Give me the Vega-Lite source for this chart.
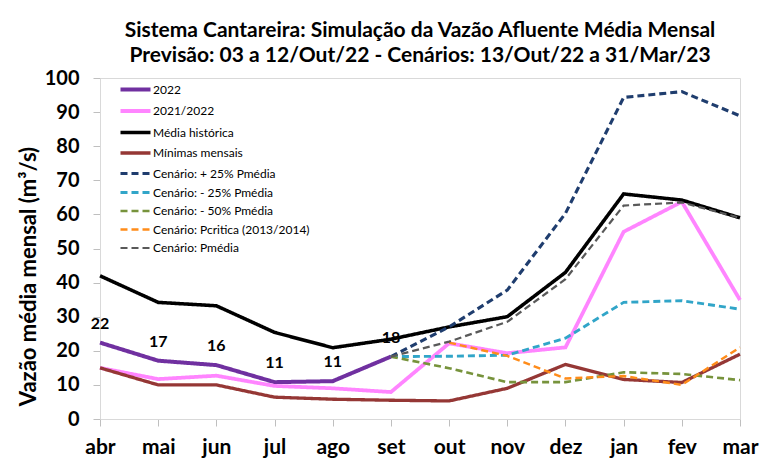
{
  "$schema": "https://vega.github.io/schema/vega-lite/v6.json",
  "width": 640,
  "height": 341,
  "autosize": "none",
  "padding": {"left": 100, "top": 78, "right": 28, "bottom": 45},
  "background": "white",
  "title": {
    "text": ["Sistema Cantareira: Simulação da Vazão Afluente Média Mensal", "Previsão: 03 a 12/Out/22 - Cenários: 13/Out/22 a 31/Mar/23"],
    "anchor": "middle",
    "frame": "group",
    "font": "Lato",
    "fontSize": 21,
    "fontWeight": "bold",
    "color": "black",
    "lineHeight": 25,
    "offset": 2
  },
  "config": {
    "view": {"stroke": "#D9D9D9"},
    "font": "Lato"
  },
  "data": {
    "values": [
      {"mes": "abr", "serie": "2022", "v": 22.4},
      {"mes": "mai", "serie": "2022", "v": 17.1},
      {"mes": "jun", "serie": "2022", "v": 15.8},
      {"mes": "jul", "serie": "2022", "v": 10.8},
      {"mes": "ago", "serie": "2022", "v": 11.1},
      {"mes": "set", "serie": "2022", "v": 18.3},
      {"mes": "abr", "serie": "2021/2022", "v": 15.0},
      {"mes": "mai", "serie": "2021/2022", "v": 11.7},
      {"mes": "jun", "serie": "2021/2022", "v": 12.7},
      {"mes": "jul", "serie": "2021/2022", "v": 9.7},
      {"mes": "ago", "serie": "2021/2022", "v": 9.0},
      {"mes": "set", "serie": "2021/2022", "v": 7.9},
      {"mes": "out", "serie": "2021/2022", "v": 22.2},
      {"mes": "nov", "serie": "2021/2022", "v": 19.3},
      {"mes": "dez", "serie": "2021/2022", "v": 21.0},
      {"mes": "jan", "serie": "2021/2022", "v": 54.9},
      {"mes": "fev", "serie": "2021/2022", "v": 63.7},
      {"mes": "mar", "serie": "2021/2022", "v": 34.9},
      {"mes": "abr", "serie": "Média histórica", "v": 42.0},
      {"mes": "mai", "serie": "Média histórica", "v": 34.2},
      {"mes": "jun", "serie": "Média histórica", "v": 33.2},
      {"mes": "jul", "serie": "Média histórica", "v": 25.4},
      {"mes": "ago", "serie": "Média histórica", "v": 20.9},
      {"mes": "set", "serie": "Média histórica", "v": 23.4},
      {"mes": "out", "serie": "Média histórica", "v": 27.0},
      {"mes": "nov", "serie": "Média histórica", "v": 30.0},
      {"mes": "dez", "serie": "Média histórica", "v": 43.0},
      {"mes": "jan", "serie": "Média histórica", "v": 66.0},
      {"mes": "fev", "serie": "Média histórica", "v": 64.2},
      {"mes": "mar", "serie": "Média histórica", "v": 59.0},
      {"mes": "abr", "serie": "Mínimas mensais", "v": 15.0},
      {"mes": "mai", "serie": "Mínimas mensais", "v": 10.0},
      {"mes": "jun", "serie": "Mínimas mensais", "v": 10.0},
      {"mes": "jul", "serie": "Mínimas mensais", "v": 6.4},
      {"mes": "ago", "serie": "Mínimas mensais", "v": 5.8},
      {"mes": "set", "serie": "Mínimas mensais", "v": 5.5},
      {"mes": "out", "serie": "Mínimas mensais", "v": 5.3},
      {"mes": "nov", "serie": "Mínimas mensais", "v": 9.0},
      {"mes": "dez", "serie": "Mínimas mensais", "v": 16.0},
      {"mes": "jan", "serie": "Mínimas mensais", "v": 11.6},
      {"mes": "fev", "serie": "Mínimas mensais", "v": 10.7},
      {"mes": "mar", "serie": "Mínimas mensais", "v": 19.0},
      {"mes": "set", "serie": "Cenário: + 25% Pmédia", "v": 18.3},
      {"mes": "out", "serie": "Cenário: + 25% Pmédia", "v": 27.0},
      {"mes": "nov", "serie": "Cenário: + 25% Pmédia", "v": 37.8},
      {"mes": "dez", "serie": "Cenário: + 25% Pmédia", "v": 60.3},
      {"mes": "jan", "serie": "Cenário: + 25% Pmédia", "v": 94.3},
      {"mes": "fev", "serie": "Cenário: + 25% Pmédia", "v": 96.0},
      {"mes": "mar", "serie": "Cenário: + 25% Pmédia", "v": 88.9},
      {"mes": "set", "serie": "Cenário: - 25% Pmédia", "v": 18.3},
      {"mes": "out", "serie": "Cenário: - 25% Pmédia", "v": 18.4},
      {"mes": "nov", "serie": "Cenário: - 25% Pmédia", "v": 18.7},
      {"mes": "dez", "serie": "Cenário: - 25% Pmédia", "v": 23.7},
      {"mes": "jan", "serie": "Cenário: - 25% Pmédia", "v": 34.2},
      {"mes": "fev", "serie": "Cenário: - 25% Pmédia", "v": 34.7},
      {"mes": "mar", "serie": "Cenário: - 25% Pmédia", "v": 32.2},
      {"mes": "set", "serie": "Cenário: - 50% Pmédia", "v": 18.3},
      {"mes": "out", "serie": "Cenário: - 50% Pmédia", "v": 14.9},
      {"mes": "nov", "serie": "Cenário: - 50% Pmédia", "v": 10.8},
      {"mes": "dez", "serie": "Cenário: - 50% Pmédia", "v": 10.8},
      {"mes": "jan", "serie": "Cenário: - 50% Pmédia", "v": 13.7},
      {"mes": "fev", "serie": "Cenário: - 50% Pmédia", "v": 13.2},
      {"mes": "mar", "serie": "Cenário: - 50% Pmédia", "v": 11.4},
      {"mes": "out", "serie": "Cenário: Pcritica (2013/2014)", "v": 22.4},
      {"mes": "nov", "serie": "Cenário: Pcritica (2013/2014)", "v": 18.5},
      {"mes": "dez", "serie": "Cenário: Pcritica (2013/2014)", "v": 11.9},
      {"mes": "jan", "serie": "Cenário: Pcritica (2013/2014)", "v": 12.6},
      {"mes": "fev", "serie": "Cenário: Pcritica (2013/2014)", "v": 10.0},
      {"mes": "mar", "serie": "Cenário: Pcritica (2013/2014)", "v": 21.0},
      {"mes": "set", "serie": "Cenário: Pmédia", "v": 18.3},
      {"mes": "out", "serie": "Cenário: Pmédia", "v": 22.7},
      {"mes": "nov", "serie": "Cenário: Pmédia", "v": 28.5},
      {"mes": "dez", "serie": "Cenário: Pmédia", "v": 41.0},
      {"mes": "jan", "serie": "Cenário: Pmédia", "v": 62.6},
      {"mes": "fev", "serie": "Cenário: Pmédia", "v": 63.5},
      {"mes": "mar", "serie": "Cenário: Pmédia", "v": 59.0}
    ]
  },
  "encoding": {
    "x": {
      "field": "mes",
      "type": "ordinal",
      "sort": ["abr", "mai", "jun", "jul", "ago", "set", "out", "nov", "dez", "jan", "fev", "mar"],
      "scale": {"type": "point", "padding": 0},
      "axis": {
        "title": null,
        "labelAngle": 0,
        "labelFontSize": 21,
        "labelFontWeight": "bold",
        "labelColor": "black",
        "labelPadding": 10,
        "tickSize": 7,
        "tickColor": "#BFBFBF",
        "domainColor": "#D9D9D9",
        "grid": false
      }
    },
    "y": {
      "field": "v",
      "type": "quantitative",
      "scale": {"domain": [0, 100], "nice": false},
      "axis": {
        "title": "Vazão média mensal (m³/s)",
        "titleFontSize": 22,
        "titleFontWeight": "bold",
        "titleColor": "black",
        "titleX": -72,
        "titleY": 198,
        "titleBaseline": "middle",
        "values": [0, 10, 20, 30, 40, 50, 60, 70, 80, 90, 100],
        "labelFontSize": 20,
        "labelFontWeight": "bold",
        "labelColor": "black",
        "labelPadding": 14,
        "tickSize": 7,
        "tickColor": "#BFBFBF",
        "domainColor": "#D9D9D9",
        "grid": false
      }
    }
  },
  "layer": [
    {
      "mark": {"type": "line", "strokeCap": "butt"},
      "encoding": {
        "color": {
          "field": "serie",
          "type": "nominal",
          "scale": {
            "domain": ["2022", "2021/2022", "Média histórica", "Mínimas mensais", "Cenário: + 25% Pmédia", "Cenário: - 25% Pmédia", "Cenário: - 50% Pmédia", "Cenário: Pcritica (2013/2014)", "Cenário: Pmédia"],
            "range": ["#7030A0", "#FF85FF", "#000000", "#953735", "#1F3D6E", "#31A5C8", "#77933C", "#FF8C1A", "#595959"]
          },
          "legend": {
            "title": null,
            "orient": "none",
            "legendX": 26,
            "legendY": 2,
            "symbolType": "M-2,0H2",
            "symbolSize": 225,
            "symbolFillColor": "transparent",
            "labelFontSize": 12,
            "labelColor": "black",
            "labelOffset": 8,
            "rowPadding": 3.5
          }
        },
        "strokeDash": {
          "field": "serie",
          "type": "nominal",
          "scale": {
            "domain": ["2022", "2021/2022", "Média histórica", "Mínimas mensais", "Cenário: + 25% Pmédia", "Cenário: - 25% Pmédia", "Cenário: - 50% Pmédia", "Cenário: Pcritica (2013/2014)", "Cenário: Pmédia"],
            "range": [[1, 0], [1, 0], [1, 0], [1, 0], [7, 4], [7, 4], [7, 4], [7, 4], [7, 4]]
          }
        },
        "strokeWidth": {
          "field": "serie",
          "type": "nominal",
          "scale": {
            "domain": ["2022", "2021/2022", "Média histórica", "Mínimas mensais", "Cenário: + 25% Pmédia", "Cenário: - 25% Pmédia", "Cenário: - 50% Pmédia", "Cenário: Pcritica (2013/2014)", "Cenário: Pmédia"],
            "range": [4, 2.2, 2.2, 4, 2.4, 2.4, 2.4, 2.4, 2.4]
          }
        }
      }
    },
    {
      "transform": [{"filter": "datum.serie == '2022'"}],
      "mark": {"type": "text", "dy": -19, "fontSize": 16, "fontWeight": "bold", "color": "black"},
      "encoding": {
        "text": {"field": "v", "type": "quantitative", "format": ".0f"}
      }
    }
  ]
}
